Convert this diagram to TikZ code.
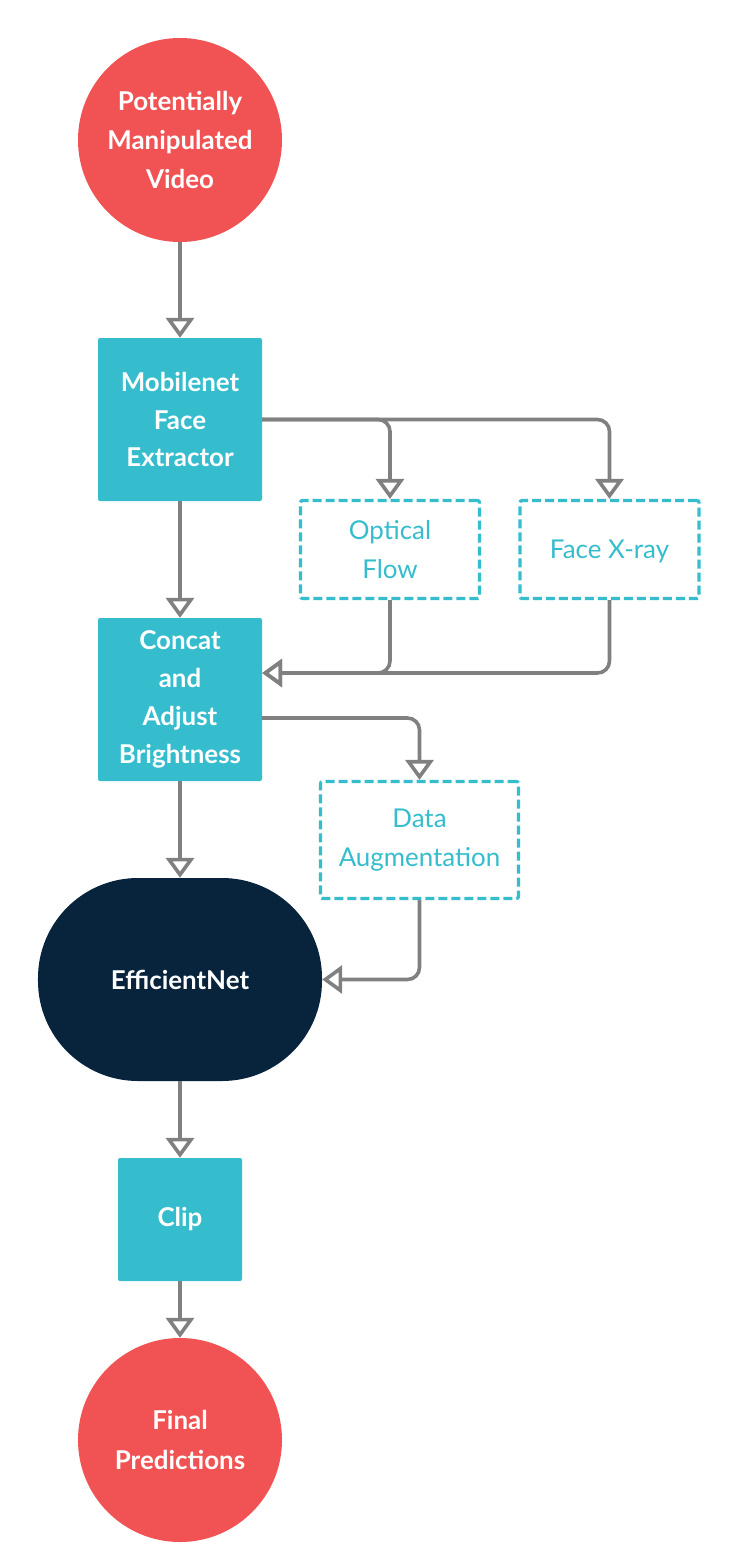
\documentclass[tikz,border=0pt]{standalone}
\usepackage{fontspec}
\setmainfont{Lato}
\usetikzlibrary{arrows.meta,positioning}
\definecolor{flowred}{HTML}{F15354}
\definecolor{flowteal}{HTML}{35BDCE}
\definecolor{flownavy}{HTML}{08243D}
\definecolor{flowgray}{HTML}{808080}

\begin{document}
\begin{tikzpicture}[
  x=1bp, y=-1bp,
  terminal/.style={circle, fill=flowred, minimum size=204bp, inner sep=0pt,
    align=center, text=white, font=\fontsize{26}{39.5}\selectfont\bfseries},
  process/.style={fill=flowteal, rounded corners=2bp, minimum width=164bp,
    minimum height=163bp, inner sep=0pt, align=center, text=white,
    font=\fontsize{26}{38}\selectfont\bfseries},
  optional/.style={draw=flowteal, line width=3.2bp, dash pattern=on 9bp off 4bp,
    rounded corners=2bp, fill=white, minimum width=179bp, minimum height=98bp,
    inner sep=0pt, align=center, text=flowteal,
    font=\fontsize{26}{40}\selectfont},
  model/.style={fill=flownavy, rounded corners=100bp, minimum width=284bp,
    minimum height=203bp, inner sep=0pt, align=center, text=white,
    font=\fontsize{26}{38}\selectfont\bfseries},
  flow/.style={draw=flowgray, line width=3.6bp, rounded corners=12bp,
    -{Triangle[open, length=20bp, width=28bp]}}
]
  \useasboundingbox[fill=white] (0,0) rectangle (740,1560);

  \node[terminal] (source) at (180,140) {Potentially\\Manipulated\\Video};
  \node[process] (mobile) at (180,419.5) {Mobilenet\\Face\\Extractor};
  \node[optional] (optical) at (390,549.5) {Optical\\Flow};
  \node[optional, text depth=0pt] (xray) at (609.5,549.5) {Face X-ray};
  \node[process] (concat) at (180,699.5) {Concat\\and\\Adjust\\Brightness};
  \node[optional, minimum width=198bp, minimum height=117bp] (augment) at (419.5,840) {Data\\Augmentation};
  \node[model] (effnet) at (180,979.5) {EfficientNet};
  \node[process, minimum width=124bp, minimum height=123bp] (clip) at (180,1219.5) {Clip};
  \node[terminal] (final) at (180,1440) {Final\\Predictions};

  \coordinate[above=26.5bp of concat.east] (concatin);
  \coordinate[below=18.5bp of concat.east] (concatout);

  \draw[flow] (source) -- (mobile);
  \draw[flow] (mobile.east) -| (optical.north);
  \draw[flow] (mobile.east) -| (xray.north);
  \draw[flow] (mobile) -- (concat);
  \draw[flow] (optical.south) |- (concatin);
  \draw[flow] (xray.south) |- (concatin);
  \draw[flow] (concatout) -| (augment.north);
  \draw[flow] (concat) -- (effnet);
  \draw[flow] (augment.south) |- (effnet.east);
  \draw[flow] (effnet) -- (clip);
  \draw[flow] (clip) -- (final);
\end{tikzpicture}
\end{document}
